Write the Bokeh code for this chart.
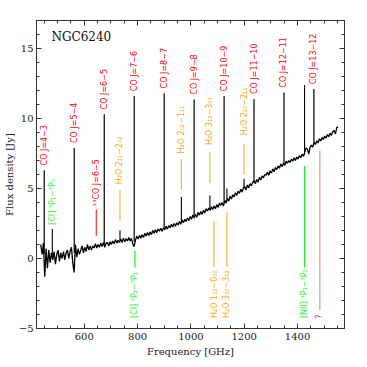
import math
from bokeh.plotting import figure
from bokeh.models import Range1d, LinearAxis, FixedTicker, ColumnDataSource, Label
from bokeh.core.properties import value
from bokeh.embed import file_html
from bokeh.resources import INLINE

# ---------------- data ----------------
# spectrum sampled every 5 GHz starting at 437 GHz (flux density in Jy)
freq_start = 437
freq_step = 5
flux = [
    1.0, 0.3, 1.1, -1.3, 0.7, -0.7, 0.6, -0.3, 0.4, -0.1,
    0.5, -0.4, 0.3, 0.6, -0.2, 0.4, 0.0, 0.5, -0.1, 0.4,
    0.6, 0.0, 0.5, 0.8, -0.3, -1.0, 1.0, 0.1, 0.7, 0.3,
    0.6, 0.9, 0.4, 0.8, 0.5, 1.0, 0.6, 0.9, 0.6, 0.9,
    0.75, 1.05, 0.75, 1.0, 0.8, 1.1, 0.85, 1.15, 0.8, 1.1,
    1.15, 0.9, 1.2, 1.0, 1.25, 1.05, 1.35, 1.1, 1.3, 1.15,
    1.4, 1.15, 1.45, 1.2, 1.4, 1.25, 1.5, 1.25, 1.45, 1.05,
    0.85, 1.3, 1.6, 1.4, 1.65, 1.45, 1.7, 1.5, 1.8, 1.6,
    1.85, 1.65, 1.9, 1.7, 2.0, 1.8, 2.05, 1.85, 2.1, 1.95,
    2.15, 1.95, 2.2, 2.05, 2.3, 2.1, 2.35, 2.2, 2.45, 2.25,
    2.5, 2.3, 2.55, 2.4, 2.65, 2.45, 2.75, 2.55, 2.8, 2.65,
    2.9, 2.7, 3.0, 2.8, 3.1, 2.9, 3.15, 2.95, 3.3, 3.1,
    3.35, 3.15, 3.45, 3.25, 3.55, 3.4, 3.6, 3.45, 3.7, 3.5,
    3.75, 3.55, 3.85, 3.65, 3.95, 3.8, 4.0, 3.75, 4.15, 3.95,
    4.3, 4.1, 4.45, 4.25, 4.55, 4.4, 4.7, 4.5, 4.8, 4.65,
    4.95, 4.75, 5.05, 5.15, 4.9, 5.25, 5.05, 5.35, 5.2, 5.45,
    5.55, 5.35, 5.65, 5.45, 5.8, 5.6, 5.9, 5.75, 6.0, 5.95,
    6.15, 5.95, 6.25, 6.1, 6.4, 6.2, 6.5, 6.35, 6.6, 6.45,
    6.75, 6.55, 6.8, 6.65, 6.95, 6.8, 7.0, 6.85, 7.1, 6.95,
    7.2, 7.0, 7.25, 7.1, 7.35, 7.2, 7.45, 7.3, 7.6, 7.9,
    7.8, 7.45, 7.95, 8.1, 7.95, 8.3, 8.15, 8.4, 8.25, 8.55,
    8.4, 8.65, 8.5, 8.75, 8.6, 8.85, 8.7, 8.95, 8.8, 9.05,
    9.15, 8.9, 9.35, 9.4,
]
freq = [freq_start + i * freq_step for i in range(len(flux))]

# CO ladder lines (observed frequency GHz, continuum under line, peak Jy)
co_name = ["CO J=4−3", "CO J=5−4", "CO J=6−5", "CO J=7−6", "CO J=8−7",
           "CO J=9−8", "CO J=10−9", "CO J=11−10", "CO J=12−11", "CO J=13−12"]
co_freq = [450.0, 562.5, 675.0, 787.4, 899.8, 1012.1, 1124.5, 1236.7, 1349.0, 1461.2]
co_base = [0.3, 0.4, 1.0, 1.2, 2.2, 3.0, 4.0, 5.4, 6.8, 8.2]
co_peak = [6.3, 7.9, 10.3, 11.6, 11.8, 11.35, 11.6, 11.4, 11.85, 12.1]

# other emission spikes in the spectrum
sp_freq = [480.4, 734.1, 964.3, 1071.2, 1135.1, 1199.4, 1426.2]
sp_base = [0.2, 1.3, 2.6, 3.5, 4.1, 5.0, 7.4]
sp_peak = [2.1, 2.0, 4.4, 4.5, 5.0, 5.7, 12.4]

# line identifications
ann_freq = [480.4, 645.3, 734.1, 964.3, 1071.2, 1199.4,
            790.0, 1086.7, 1135.1, 1426.2, 1483.6]
ann_text = ["[CI] ³P₁−³P₀", "¹³CO J=6−5", "H₂O 2₁₁−2₀₂", "H₂O 2₀₂−1₁₁",
            "H₂O 3₁₂−3₀₃", "H₂O 2₂₀−2₁₁",
            "[CI] ³P₂−³P₁", "H₂O 1₁₁−0₀₀", "H₂O 3₂₁−3₁₂", "[NII] ³P₁−³P₀", "?"]
ann_kind = ["ci", "13co", "h2o", "h2o", "h2o", "h2o",
            "ci", "h2o", "h2o", "nii", "unk"]

# ---------------- layout / style ----------------
text_col = {"ci": "#22ee22", "13co": "#ff0000", "h2o": "#ffa500", "nii": "#22ee22", "unk": "#a52a2a"}
line_col = {"ci": "#22ee22", "13co": "#ff3030", "h2o": "#ffb040", "nii": "#22ee22", "unk": "#d0a0a0"}
# marker segments (y0, y1) and text start, in Jy
ann_y0 = [None, 1.6, 2.7, 4.95, 5.4, 6.0, 0.55, 2.7, 3.3, 6.6, 7.7]
ann_y1 = [None, 3.5, 4.9, 7.1, 7.6, 8.2, -0.65, -0.6, -0.6, -0.65, -3.7]
ann_ty = [2.4, 3.75, 5.3, 7.5, 8.1, 8.8, -4.25, -4.25, -4.25, -4.25, -4.3]

p = figure(frame_width=308, frame_height=308, x_range=Range1d(421, 1576), y_range=Range1d(-5, 17),
           output_backend="svg", toolbar_location=None,
           min_border_left=30, min_border_right=10, min_border_top=20, min_border_bottom=30)
p.xgrid.visible = False
p.ygrid.visible = False
p.outline_line_color = "#333333"
p.outline_line_width = 1

xticker = FixedTicker(ticks=[600, 800, 1000, 1200, 1400], minor_ticks=list(range(450, 1576, 50)))
yticker = FixedTicker(ticks=[-5, 0, 5, 10, 15], minor_ticks=list(range(-5, 18)))

def style_axis(ax, labels=True):
    ax.major_tick_in = 5
    ax.major_tick_out = 0
    ax.minor_tick_in = 3
    ax.minor_tick_out = 0
    ax.axis_line_color = "#333333"
    ax.major_tick_line_color = "#333333"
    ax.minor_tick_line_color = "#333333"
    if labels:
        ax.major_label_text_font = "DejaVu Serif"
        ax.major_label_text_font_size = "10px"
        ax.major_label_text_color = "#222222"
        ax.axis_label_text_font = "DejaVu Serif"
        ax.axis_label_text_font_size = "10px"
        ax.axis_label_text_font_style = "normal"
        ax.axis_label_text_color = "#222222"
        ax.major_label_standoff = 4
        ax.axis_label_standoff = 3
    else:
        ax.major_label_text_font_size = "1px"
        ax.major_label_text_color = None
        ax.major_label_standoff = 0

p.xaxis.ticker = xticker
p.yaxis.ticker = yticker
p.xaxis.axis_label = "Frequency [GHz]"
p.yaxis.axis_label = "Flux density [Jy]"
style_axis(p.xaxis[0])
style_axis(p.yaxis[0])
p.yaxis[0].major_label_standoff = 3
p.yaxis[0].axis_label_standoff = 1

top = LinearAxis(ticker=xticker)
right = LinearAxis(ticker=yticker)
style_axis(top, labels=False)
style_axis(right, labels=False)
p.add_layout(top, "above")
p.add_layout(right, "right")

# spectrum
p.line(freq, flux, color="black", line_width=1.3)
p.segment(x0=co_freq, y0=co_base, x1=co_freq, y1=co_peak, color="black", line_width=1.2)
p.segment(x0=sp_freq, y0=sp_base, x1=sp_freq, y1=sp_peak, color="black", line_width=1.1)

# CO labels
co_src = ColumnDataSource(dict(x=co_freq, y=[v + 0.35 for v in co_peak], t=co_name))
p.text(x="x", y="y", text="t", source=co_src, angle=math.pi / 2,
       text_align="left", text_baseline="middle", text_color="#ff0000",
       text_font=value("DejaVu Sans"), text_font_size="8px")

# identification markers
seg_idx = [i for i in range(len(ann_freq)) if ann_y0[i] is not None]
seg_src = ColumnDataSource(dict(
    x=[ann_freq[i] for i in seg_idx], y0=[ann_y0[i] for i in seg_idx],
    y1=[ann_y1[i] for i in seg_idx], c=[line_col[ann_kind[i]] for i in seg_idx]))
p.segment(x0="x", y0="y0", x1="x", y1="y1", color="c", line_width=1.2, source=seg_src)

ann_src = ColumnDataSource(dict(x=ann_freq, y=ann_ty, t=ann_text,
                                c=[text_col[k] for k in ann_kind]))
p.text(x="x", y="y", text="t", source=ann_src, angle=math.pi / 2,
       text_align="left", text_baseline="middle", text_color="c",
       text_font=value("DejaVu Sans"), text_font_size="8px")

p.add_layout(Label(x=477, y=15.85, text="NGC6240", text_font="DejaVu Serif",
                   text_font_size="12px", text_baseline="middle", text_color="#111111"))

open("out.html", "w").write(file_html(p, INLINE))
